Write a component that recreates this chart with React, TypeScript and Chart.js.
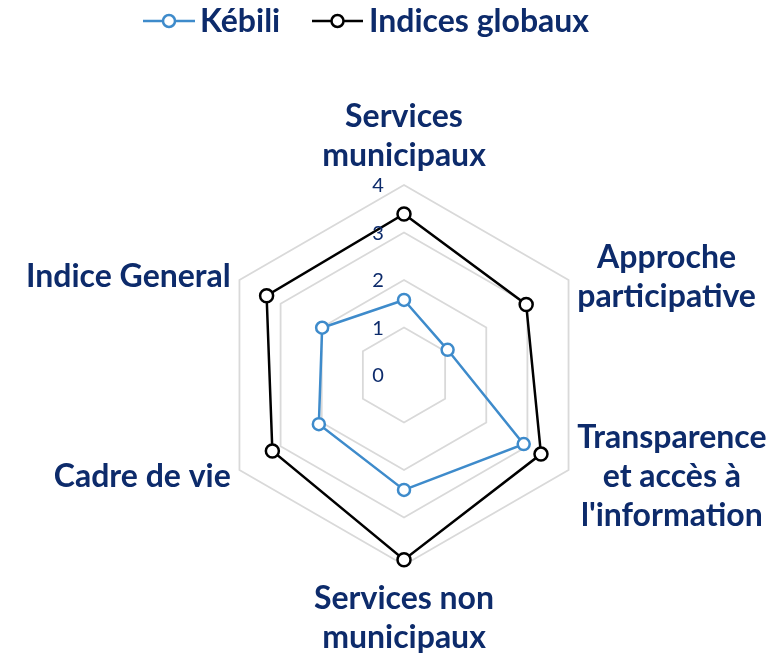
import React, { useEffect, useRef } from "react";
import { Chart, registerables } from "chart.js";

Chart.register(...registerables);

const categories: string[][] = [
  ["Services", "municipaux"],
  ["Approche", "participative"],
  ["Transparence", "et accès à", "l'information"],
  ["Services non", "municipaux"],
  ["Cadre de vie"],
  ["Indice General"],
];
const seriesNames = ["Kébili", "Indices globaux"];
const kebiliValues = [1.58, 1.06, 2.91, 2.42, 2.07, 1.99];
const globalValues = [3.39, 2.97, 3.33, 3.89, 3.2, 3.34];
const tickValues = [0, 1, 2, 3, 4];

const NAVY = "#0D2B6B";
const BLUE = "#3E8BCB";
const BLACK = "#000000";
const FONT = "Lato, 'Open Sans', sans-serif";

const labelsPlugin = {
  id: "customLabels",
  afterDraw(chart: any) {
    const ctx = chart.ctx as CanvasRenderingContext2D;
    const scale = chart.scales.r;
    ctx.save();
    // tick labels
    ctx.font = `400 20px ${FONT}`;
    ctx.fillStyle = NAVY;
    ctx.textAlign = "center";
    ctx.textBaseline = "middle";
    tickValues.forEach((v) => {
      const d = scale.getDistanceFromCenterForValue(v);
      ctx.fillText(String(v), scale.xCenter - 26, scale.yCenter - d + 1);
    });
    // point labels
    ctx.font = `700 32px ${FONT}`;
    const lh = 39;
    categories.forEach((lines, i) => {
      const deg = Math.round((scale.getIndexAngle(i) * 180) / Math.PI) % 360;
      const isBottom = deg === 180;
      const pad = isBottom ? 14 : 10;
      const p = scale.getPointPosition(i, scale.drawingArea + pad);
      const widths = lines.map((l) => ctx.measureText(l).width);
      const bw = Math.max(...widths);
      const bh = lines.length * lh;
      let cx: number;
      let top: number;
      if (deg === 0) {
        cx = p.x;
        top = p.y - bh;
      } else if (isBottom) {
        cx = p.x;
        top = p.y;
      } else if (deg < 180) {
        cx = p.x + bw / 2;
        top = p.y - bh / 2 + 2;
      } else {
        cx = p.x - bw / 2;
        top = p.y - bh / 2 + 2;
      }
      ctx.textAlign = "center";
      ctx.textBaseline = "middle";
      lines.forEach((l, k) => {
        ctx.fillText(l, cx, top + lh / 2 + k * lh);
      });
    });
    // legend
    const items = chart.data.datasets.map((ds: any, i: number) => ({
      text: seriesNames[i],
      color: ds.borderColor,
    }));
    const legendPos = [
      { x0: 143, x1: 195, tx: 200 },
      { x0: 312, x1: 363, tx: 369 },
    ];
    const ly = 21;
    items.forEach((it: any, i: number) => {
      const lp = legendPos[i];
      ctx.strokeStyle = it.color;
      ctx.lineWidth = 2.5;
      ctx.beginPath();
      ctx.moveTo(lp.x0, ly);
      ctx.lineTo(lp.x1, ly);
      ctx.stroke();
      ctx.beginPath();
      ctx.arc((lp.x0 + lp.x1) / 2, ly, 6, 0, Math.PI * 2);
      ctx.fillStyle = "#ffffff";
      ctx.fill();
      ctx.stroke();
      ctx.fillStyle = NAVY;
      ctx.font = `700 32px ${FONT}`;
      ctx.textAlign = "left";
      ctx.textBaseline = "middle";
      ctx.fillText(it.text, lp.tx, ly + 1);
    });
    ctx.restore();
  },
};

export default function App() {
  const ref = useRef<HTMLCanvasElement | null>(null);
  useEffect(() => {
    document.body.style.margin = "0";
    const canvas = ref.current;
    if (!canvas) return;
    const chart = new Chart(canvas, {
      type: "radar",
      data: {
        labels: categories.map((c) => c.join(" ")),
        datasets: [
          {
            label: seriesNames[0],
            data: kebiliValues,
            borderColor: BLUE,
            backgroundColor: "#ffffff",
            pointBackgroundColor: "#ffffff",
            pointBorderColor: BLUE,
            pointRadius: 6,
            pointBorderWidth: 2.5,
            borderWidth: 2.5,
            fill: false,
          },
          {
            label: seriesNames[1],
            data: globalValues,
            borderColor: BLACK,
            backgroundColor: "#ffffff",
            pointBackgroundColor: "#ffffff",
            pointBorderColor: BLACK,
            pointRadius: 6.5,
            pointBorderWidth: 2.5,
            borderWidth: 2.5,
            fill: false,
          },
        ],
      },
      options: {
        responsive: false,
        animation: false,
        devicePixelRatio: 1,
        layout: { padding: { left: 214, right: 190, top: 185, bottom: 90 } },
        plugins: {
          legend: { display: false },
          tooltip: { enabled: false },
        },
        scales: {
          r: {
            min: 0,
            max: 4,
            ticks: { stepSize: 1, display: false },
            grid: { color: "#D9D9D9", lineWidth: 1.8 },
            angleLines: { display: false },
            pointLabels: { display: false },
          },
        },
      },
      plugins: [labelsPlugin],
    });
    return () => chart.destroy();
  }, []);
  return (
    <div style={{ width: 784, height: 656 }}>
      <canvas ref={ref} width={784} height={656} />
    </div>
  );
}
